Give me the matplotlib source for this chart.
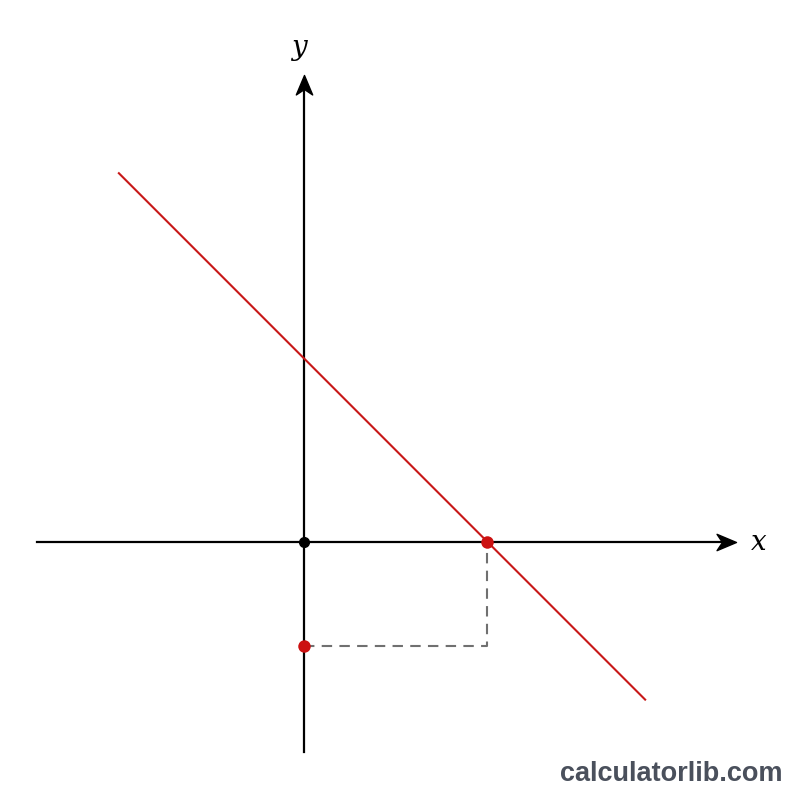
import matplotlib.pyplot as plt
from matplotlib.path import Path

# line y = -x + b, point on the y-axis below origin
intercept = 3.5
line_x = [-3.56, 6.56]
line_y = [-x + intercept + 0.03 for x in line_x]
x_root = 3.52
y_point = -2.0

fig = plt.figure(figsize=(8, 8), dpi=100)
ax = fig.add_axes([0, 0, 1, 1])
ax.set_xlim(-5.846, 9.538)
ax.set_ylim(-4.96, 10.42)
ax.axis('off')

# stealth arrowheads, tip at origin of the marker path
head_right = Path([(0, 0), (-1, 0.42), (-0.72, 0), (-1, -0.42), (0, 0)],
                  [Path.MOVETO, Path.LINETO, Path.LINETO, Path.LINETO, Path.CLOSEPOLY])
head_up = Path([(0, 0), (-0.42, -1), (0, -0.72), (0.42, -1), (0, 0)],
               [Path.MOVETO, Path.LINETO, Path.LINETO, Path.LINETO, Path.CLOSEPOLY])

# axes
ax.plot([-5.13, 8.1], [0, 0], color='black', lw=1.6, zorder=2)
ax.plot([0, 0], [-4.04, 8.8], color='black', lw=1.6, zorder=2)
ax.plot([8.3], [0], marker=head_right, ms=28, color='black', zorder=2)
ax.plot([0], [8.98], marker=head_up, ms=28, color='black', zorder=2)
ax.text(8.75, 0, 'x', fontsize=20, family='DejaVu Serif', style='italic', ha='center', va='center')
ax.text(-0.1, 9.5, 'y', fontsize=20, family='DejaVu Serif', style='italic', ha='center', va='center')

# red line
ax.plot(line_x, line_y, color='#c81818', lw=1.5, zorder=3)

# dashed guides
ax.plot([0, x_root, x_root], [y_point, y_point, 0], color='#707070', lw=1.5,
        linestyle=(0, (5, 3.5)), zorder=2)

# points
ax.plot([0], [0], 'o', color='black', ms=7, zorder=5)
ax.plot([x_root, 0], [0, y_point], 'o', color='#cc1111', ms=9, zorder=5, markeredgewidth=0)

fig.text(0.978, 0.033, 'calculatorlib.com', fontsize=19.5, fontweight='bold', color='#4a505c',
         family='Liberation Sans', ha='right', va='center')

fig.savefig('out.png', dpi=100, facecolor='white')
